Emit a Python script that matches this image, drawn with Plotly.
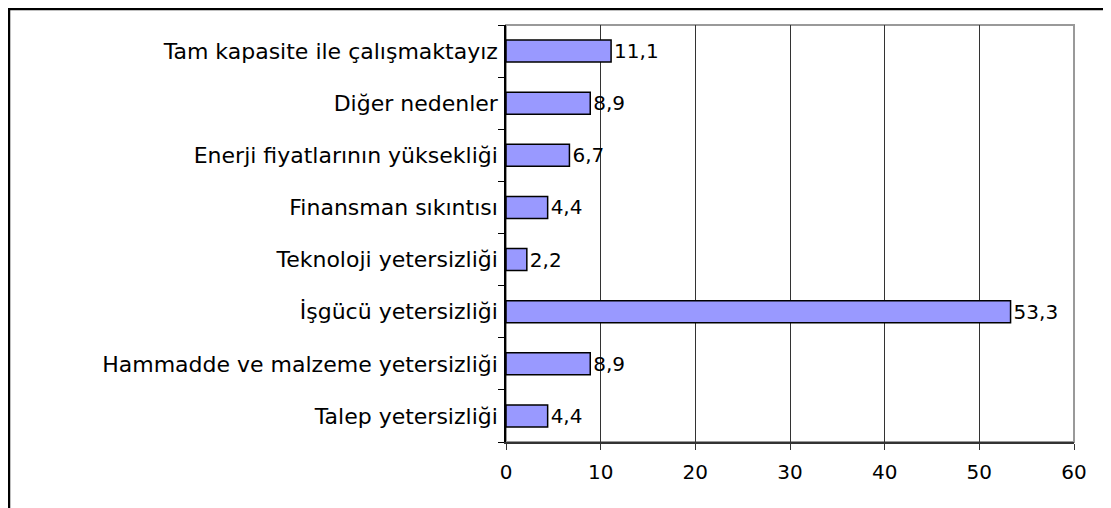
import plotly.graph_objects as go

categories = [
    "Talep yetersizliği",
    "Hammadde ve malzeme yetersizliği",
    "İşgücü yetersizliği",
    "Teknoloji yetersizliği",
    "Finansman sıkıntısı",
    "Enerji fiyatlarının yüksekliği",
    "Diğer nedenler",
    "Tam kapasite ile çalışmaktayız",
]
values = [4.4, 8.9, 53.3, 2.2, 4.4, 6.7, 8.9, 11.1]
x_ticks = [0, 10, 20, 30, 40, 50, 60]

labels = [f"{v:.1f}".replace(".", ",") for v in values]

font = "DejaVu Sans, Arial, sans-serif"

fig = go.Figure()
fig.add_trace(
    go.Bar(
        x=values,
        y=categories,
        orientation="h",
        marker=dict(color="#9999ff", line=dict(color="black", width=1.5)),
        text=labels,
        textposition="outside",
        constraintext="none",
        textfont=dict(size=20, color="black", family=font),
        cliponaxis=False,
        hoverinfo="skip",
    )
)

# page body has an 8px margin, so the figure is a bit smaller than the window
W, H = 1103, 500
ml, mr, mt, mb = 498, 37, 17, 66
pw, ph = W - ml - mr, H - mt - mb

fig.update_layout(
    width=W,
    height=H,
    margin=dict(l=ml, r=mr, t=mt, b=mb, pad=0),
    paper_bgcolor="white",
    plot_bgcolor="white",
    bargap=0.58,
    showlegend=False,
    font=dict(family=font, size=20, color="black"),
    xaxis=dict(
        range=[0, 60],
        tickvals=x_ticks,
        showgrid=True,
        gridcolor="#333333",
        gridwidth=1,
        zeroline=False,
        showline=True,
        linecolor="#333333",
        linewidth=1.5,
        ticks="outside",
        ticklen=6,
        tickcolor="#333333",
        ticklabelstandoff=5,
        tickfont=dict(size=20),
    ),
    yaxis=dict(
        type="category",
        showgrid=False,
        zeroline=False,
        showline=True,
        linecolor="black",
        linewidth=1.5,
        ticks="outside",
        tickson="boundaries",
        ticklen=6,
        tickcolor="black",
        ticklabelstandoff=2,
        tickfont=dict(size=22),
    ),
    shapes=[
        # gray plot-area border (top and right)
        dict(type="rect", xref="paper", yref="paper", x0=0, x1=1, y0=0, y1=1,
             line=dict(color="#999999", width=2), layer="below"),
        # outer chart frame
        dict(type="rect", xref="paper", yref="paper",
             x0=(1 - ml) / pw, x1=(W + 10 - ml) / pw,
             y0=-(mb + 10) / ph, y1=1 + (mt - 1) / ph,
             line=dict(color="black", width=2.5)),
    ],
)

fig.write_html("out.html")
